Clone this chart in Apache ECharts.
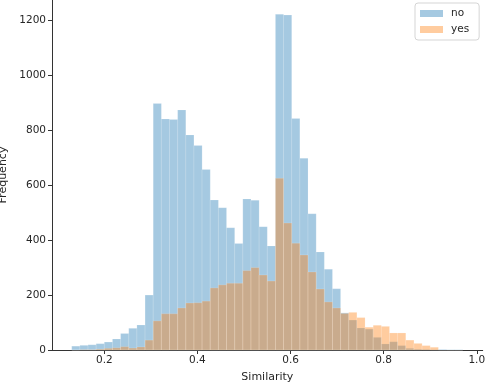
<!DOCTYPE html>
<html>
<head>
<meta charset="utf-8">
<script src="https://cdn.jsdelivr.net/npm/echarts@6/dist/echarts.min.js"></script>
<style>
html,body{margin:0;padding:0;background:#fff;}
#chart{width:486px;height:384px;}
</style>
</head>
<body>
<div id="chart"></div>
<script>
// Histogram bins (shared by both groups)
var binStart = 0.13;
var binWidth = 0.0175;
// Counts per bin
var countsNo = [14, 17, 19, 23, 29, 40, 60, 79, 91, 200,
  897, 841, 839, 874, 783, 744, 657, 546, 518, 445,
  388, 550, 545, 449, 379, 1222, 1219, 843, 698, 496,
  357, 294, 223, 135, 109, 80, 76, 46, 22, 30,
  16, 6, 3, 2, 1, 2, 1, 1];
var countsYes = [0, 1, 1, 3, 6, 8, 12, 7, 11, 36,
  106, 132, 132, 153, 171, 172, 178, 226, 237, 243,
  243, 289, 300, 273, 251, 625, 462, 389, 346, 284,
  222, 175, 153, 133, 137, 118, 83, 90, 86, 62,
  62, 36, 24, 16, 10, 0, 0, 0];
var seriesNames = ['no', 'yes'];
var xTicks = [0.2, 0.4, 0.6, 0.8, 1.0];
var yTicks = [0, 200, 400, 600, 800, 1000, 1200];

function toBins(counts) {
  var out = [];
  for (var i = 0; i < counts.length; i++) {
    var x0 = binStart + i * binWidth;
    out.push([x0, x0 + binWidth, counts[i]]);
  }
  return out;
}

function renderBar(params, api) {
  var p0 = api.coord([api.value(0), api.value(2)]);
  var p1 = api.coord([api.value(1), 0]);
  return {
    type: 'rect',
    shape: {x: p0[0], y: p0[1], width: p1[0] - p0[0], height: p1[1] - p0[1]},
    style: {fill: api.visual('color'), stroke: 'rgba(255,255,255,0.25)', lineWidth: 0.6}
  };
}

var textColor = '#262626';
var chart = echarts.init(document.getElementById('chart'), null, {renderer: 'canvas'});
chart.setOption({
  animation: false,
  backgroundColor: '#ffffff',
  grid: {left: 52, right: 3.3, top: 0, bottom: 34, containLabel: false, outerBoundsMode: 'none'},
  legend: {
    data: seriesNames,
    orient: 'vertical',
    left: 415, top: 3,
    padding: [5, 10, 5, 5],
    itemGap: 5,
    itemWidth: 23, itemHeight: 7,
    icon: 'rect',
    backgroundColor: '#fff',
    borderColor: '#d5d5d5', borderWidth: 1, borderRadius: 3,
    textStyle: {fontFamily: 'DejaVu Sans', fontSize: 10.5, color: textColor, padding: [0, 0, 0, 3]}
  },
  xAxis: {
    type: 'value',
    min: 0.0876, max: 1.0127,
    name: 'Similarity', nameLocation: 'middle', nameGap: 22,
    nameTextStyle: {fontFamily: 'DejaVu Sans', fontSize: 11, color: textColor},
    splitLine: {show: false},
    axisLine: {show: true, lineStyle: {color: '#333', width: 1}},
    axisTick: {show: true, length: 4, customValues: xTicks, lineStyle: {color: '#333'}},
    axisLabel: {customValues: xTicks, fontFamily: 'DejaVu Sans', fontSize: 10.5, color: textColor, margin: 5,
      formatter: function (v) { return v.toFixed(1); }}
  },
  yAxis: {
    type: 'value',
    min: 0, max: 1274,
    name: 'Frequency', nameLocation: 'middle', nameGap: 40, nameRotate: 90,
    nameTextStyle: {fontFamily: 'DejaVu Sans', fontSize: 11, color: textColor},
    splitLine: {show: false},
    axisLine: {show: true, lineStyle: {color: '#333', width: 1}},
    axisTick: {show: true, length: 4, customValues: yTicks, lineStyle: {color: '#333'}},
    axisLabel: {customValues: yTicks, fontFamily: 'DejaVu Sans', fontSize: 10.5, color: textColor, margin: 6,
      formatter: function (v) { return String(v); }}
  },
  series: [
    {name: seriesNames[0], type: 'custom', renderItem: renderBar,
     itemStyle: {color: 'rgba(31,119,180,0.4)'},
     encode: {x: [0, 1], y: 2}, data: toBins(countsNo)},
    {name: seriesNames[1], type: 'custom', renderItem: renderBar,
     itemStyle: {color: 'rgba(255,127,14,0.4)'},
     encode: {x: [0, 1], y: 2}, data: toBins(countsYes)}
  ]
});
</script>
</body>
</html>
